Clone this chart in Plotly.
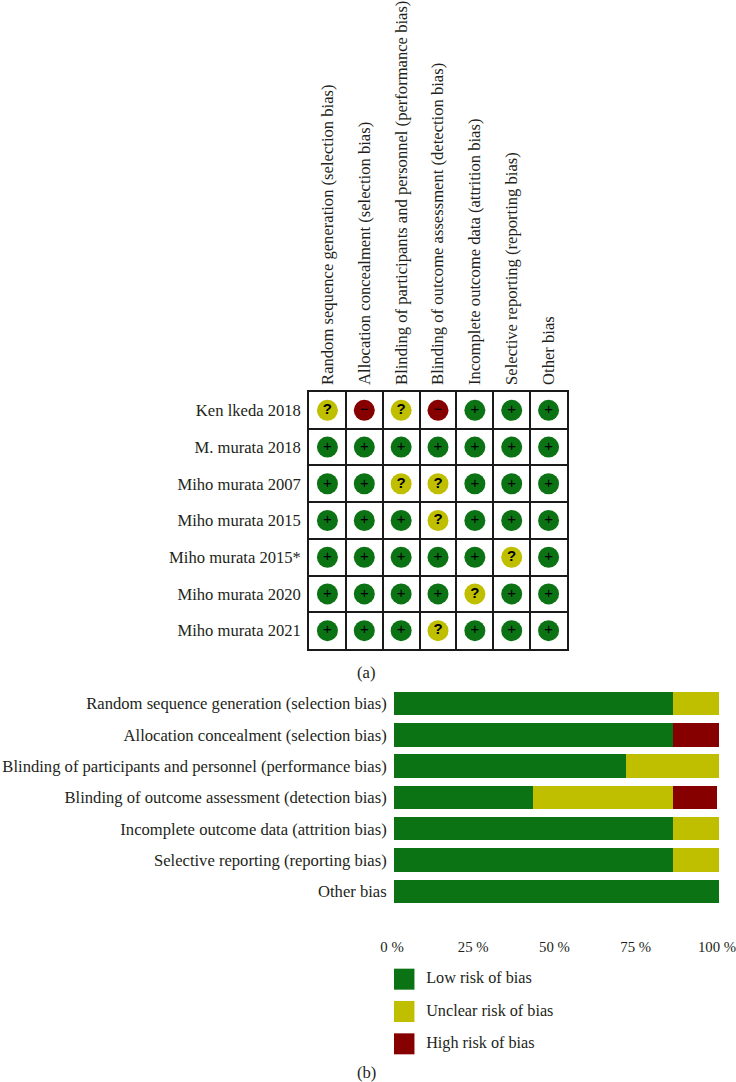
import plotly.graph_objects as go

W, H = 736, 1082

#Data
domains = [
    "Random sequence generation (selection bias)",
    "Allocation concealment (selection bias)",
    "Blinding of participants and personnel (performance bias)",
    "Blinding of outcome assessment (detection bias)",
    "Incomplete outcome data (attrition bias)",
    "Selective reporting (reporting bias)",
    "Other bias",
]
studies = [
    "Ken lkeda 2018",
    "M. murata 2018",
    "Miho murata 2007",
    "Miho murata 2015",
    "Miho murata 2015*",
    "Miho murata 2020",
    "Miho murata 2021",
]
ken_2018 = ["?", "-", "?", "-", "+", "+", "+"]
m_2018 = ["+", "+", "+", "+", "+", "+", "+"]
miho_2007 = ["+", "+", "?", "?", "+", "+", "+"]
miho_2015 = ["+", "+", "+", "?", "+", "+", "+"]
miho_2015b = ["+", "+", "+", "+", "+", "?", "+"]
miho_2020 = ["+", "+", "+", "+", "?", "+", "+"]
miho_2021 = ["+", "+", "+", "?", "+", "+", "+"]
judgements = [ken_2018, m_2018, miho_2007, miho_2015, miho_2015b, miho_2020, miho_2021]

low_pct = [85.7, 85.7, 71.4, 42.9, 85.7, 85.7, 100]
unclear_pct = [14.3, 0, 28.6, 42.9, 14.3, 14.3, 0]
high_pct = [0, 14.3, 0, 13.7, 0, 0, 0]
pct_ticks = [0, 25, 50, 75, 100]
pct_labels = ["0 %", "25 %", "50 %", "75 %", "100 %"]
legend_names = ["Low risk of bias", "Unclear risk of bias", "High risk of bias"]

GREEN, YELLOW, RED = "#0B7313", "#BFBF00", "#870000"
colors = {"+": GREEN, "?": YELLOW, "-": RED}
shown = {"+": "+", "?": "<b>?</b>", "-": "−"}
FONT = "Liberation Serif"
FS = 16.6
TEXT = "#231F20"


def xdom(a, b):
    return [a / W, b / W]


def ydom(top, bottom):
    return [1 - bottom / H, 1 - top / H]


fig = go.Figure()

#Panel (a): traffic light grid
for sym in ["+", "?", "-"]:
    xs, ys, txt = [], [], []
    for r, row in enumerate(judgements):
        for c, val in enumerate(row):
            if val == sym:
                xs.append(c)
                ys.append(r)
                txt.append(shown[sym])
    fig.add_trace(go.Scatter(
        x=xs, y=ys, mode="markers+text", text=txt,
        textposition="middle center",
        textfont=dict(family="Liberation Sans", size=15, color="black"),
        marker=dict(size=21, color=colors[sym], line=dict(width=0)),
        xaxis="x", yaxis="y", showlegend=False,
    ))

#Panel (b): stacked bars
for name, vals, col in zip(legend_names, [low_pct, unclear_pct, high_pct], [GREEN, YELLOW, RED]):
    fig.add_trace(go.Bar(
        x=vals, y=domains, orientation="h", name=name,
        marker=dict(color=col, line=dict(width=0)),
        xaxis="x2", yaxis="y2", showlegend=False,
    ))

#Legend drawn as its own small panel so the swatches keep their size
for i, (name, col) in enumerate(zip(legend_names, [GREEN, YELLOW, RED])):
    fig.add_trace(go.Scatter(
        x=[0], y=[i], mode="markers+text", text=["\u00a0\u00a0" + name],
        textposition="middle right",
        textfont=dict(family=FONT, size=16.2, color=TEXT),
        marker=dict(size=21, symbol="square", color=col, line=dict(width=0)),
        xaxis="x3", yaxis="y3", showlegend=False,
    ))

fig.update_layout(
    width=W, height=H,
    margin=dict(l=0, r=0, t=0, b=0),
    paper_bgcolor="white", plot_bgcolor="white",
    font=dict(family=FONT, size=FS, color=TEXT),
    barmode="stack", bargap=0.25,
    xaxis=dict(
        domain=xdom(309, 567), range=[-0.5, 6.5], side="top", anchor="y",
        tickmode="array", tickvals=list(range(7)), ticktext=domains, tickangle=-90,
        ticks="outside", ticklen=2, tickcolor="white", showgrid=False, zeroline=False,
        showline=True, linecolor="#1a1a1a", linewidth=1.5, mirror=True,
        minor=dict(tick0=0.5, dtick=1, showgrid=True, gridcolor="#1a1a1a", gridwidth=1.5, ticks=""),
        automargin=False, ticklabeloverflow="allow",
    ),
    yaxis=dict(
        domain=ydom(392, 649), range=[6.5, -0.5], anchor="x",
        tickmode="array", tickvals=list(range(7)), ticktext=studies,
        ticks="outside", ticklen=3, tickcolor="white", showgrid=False, zeroline=False,
        showline=True, linecolor="#1a1a1a", linewidth=1.5, mirror=True,
        minor=dict(tick0=0.5, dtick=1, showgrid=True, gridcolor="#1a1a1a", gridwidth=1.5, ticks=""),
        automargin=False, ticklabeloverflow="allow",
    ),
    xaxis2=dict(
        domain=xdom(394, 719), range=[0, 100], anchor="y2",
        tickmode="array", tickvals=pct_ticks, ticktext=pct_labels,
        tickfont=dict(family=FONT, size=14.8, color=TEXT),
        ticks="outside", ticklen=3, tickcolor="white", ticklabelshift=-2,
        showgrid=False, zeroline=False, showline=False, automargin=False,
        ticklabeloverflow="allow",
    ),
    yaxis2=dict(
        domain=ydom(688, 930.7), range=[7.26, -0.5], anchor="x2",
        type="category", categoryorder="array", categoryarray=domains,
        ticks="outside", ticklen=3, tickcolor="white",
        showgrid=False, zeroline=False, showline=False, automargin=False,
        ticklabeloverflow="allow",
    ),
    xaxis3=dict(domain=xdom(394, 736), range=[-0.03, 1], anchor="y3", visible=False),
    yaxis3=dict(domain=ydom(963, 1060), range=[2.5, -0.5], anchor="x3", visible=False),
    annotations=[
        dict(text="(a)", x=366 / W, y=1 - 672 / H, xref="paper", yref="paper", showarrow=False,
             xanchor="center", yanchor="middle", font=dict(family=FONT, size=FS, color=TEXT)),
        dict(text="(b)", x=366 / W, y=1 - 1072.5 / H, xref="paper", yref="paper", showarrow=False,
             xanchor="center", yanchor="middle", font=dict(family=FONT, size=FS, color=TEXT)),
    ],
)

fig.write_html("out.html", config=dict(displayModeBar=False),
               post_script="document.body.style.margin='0';")
